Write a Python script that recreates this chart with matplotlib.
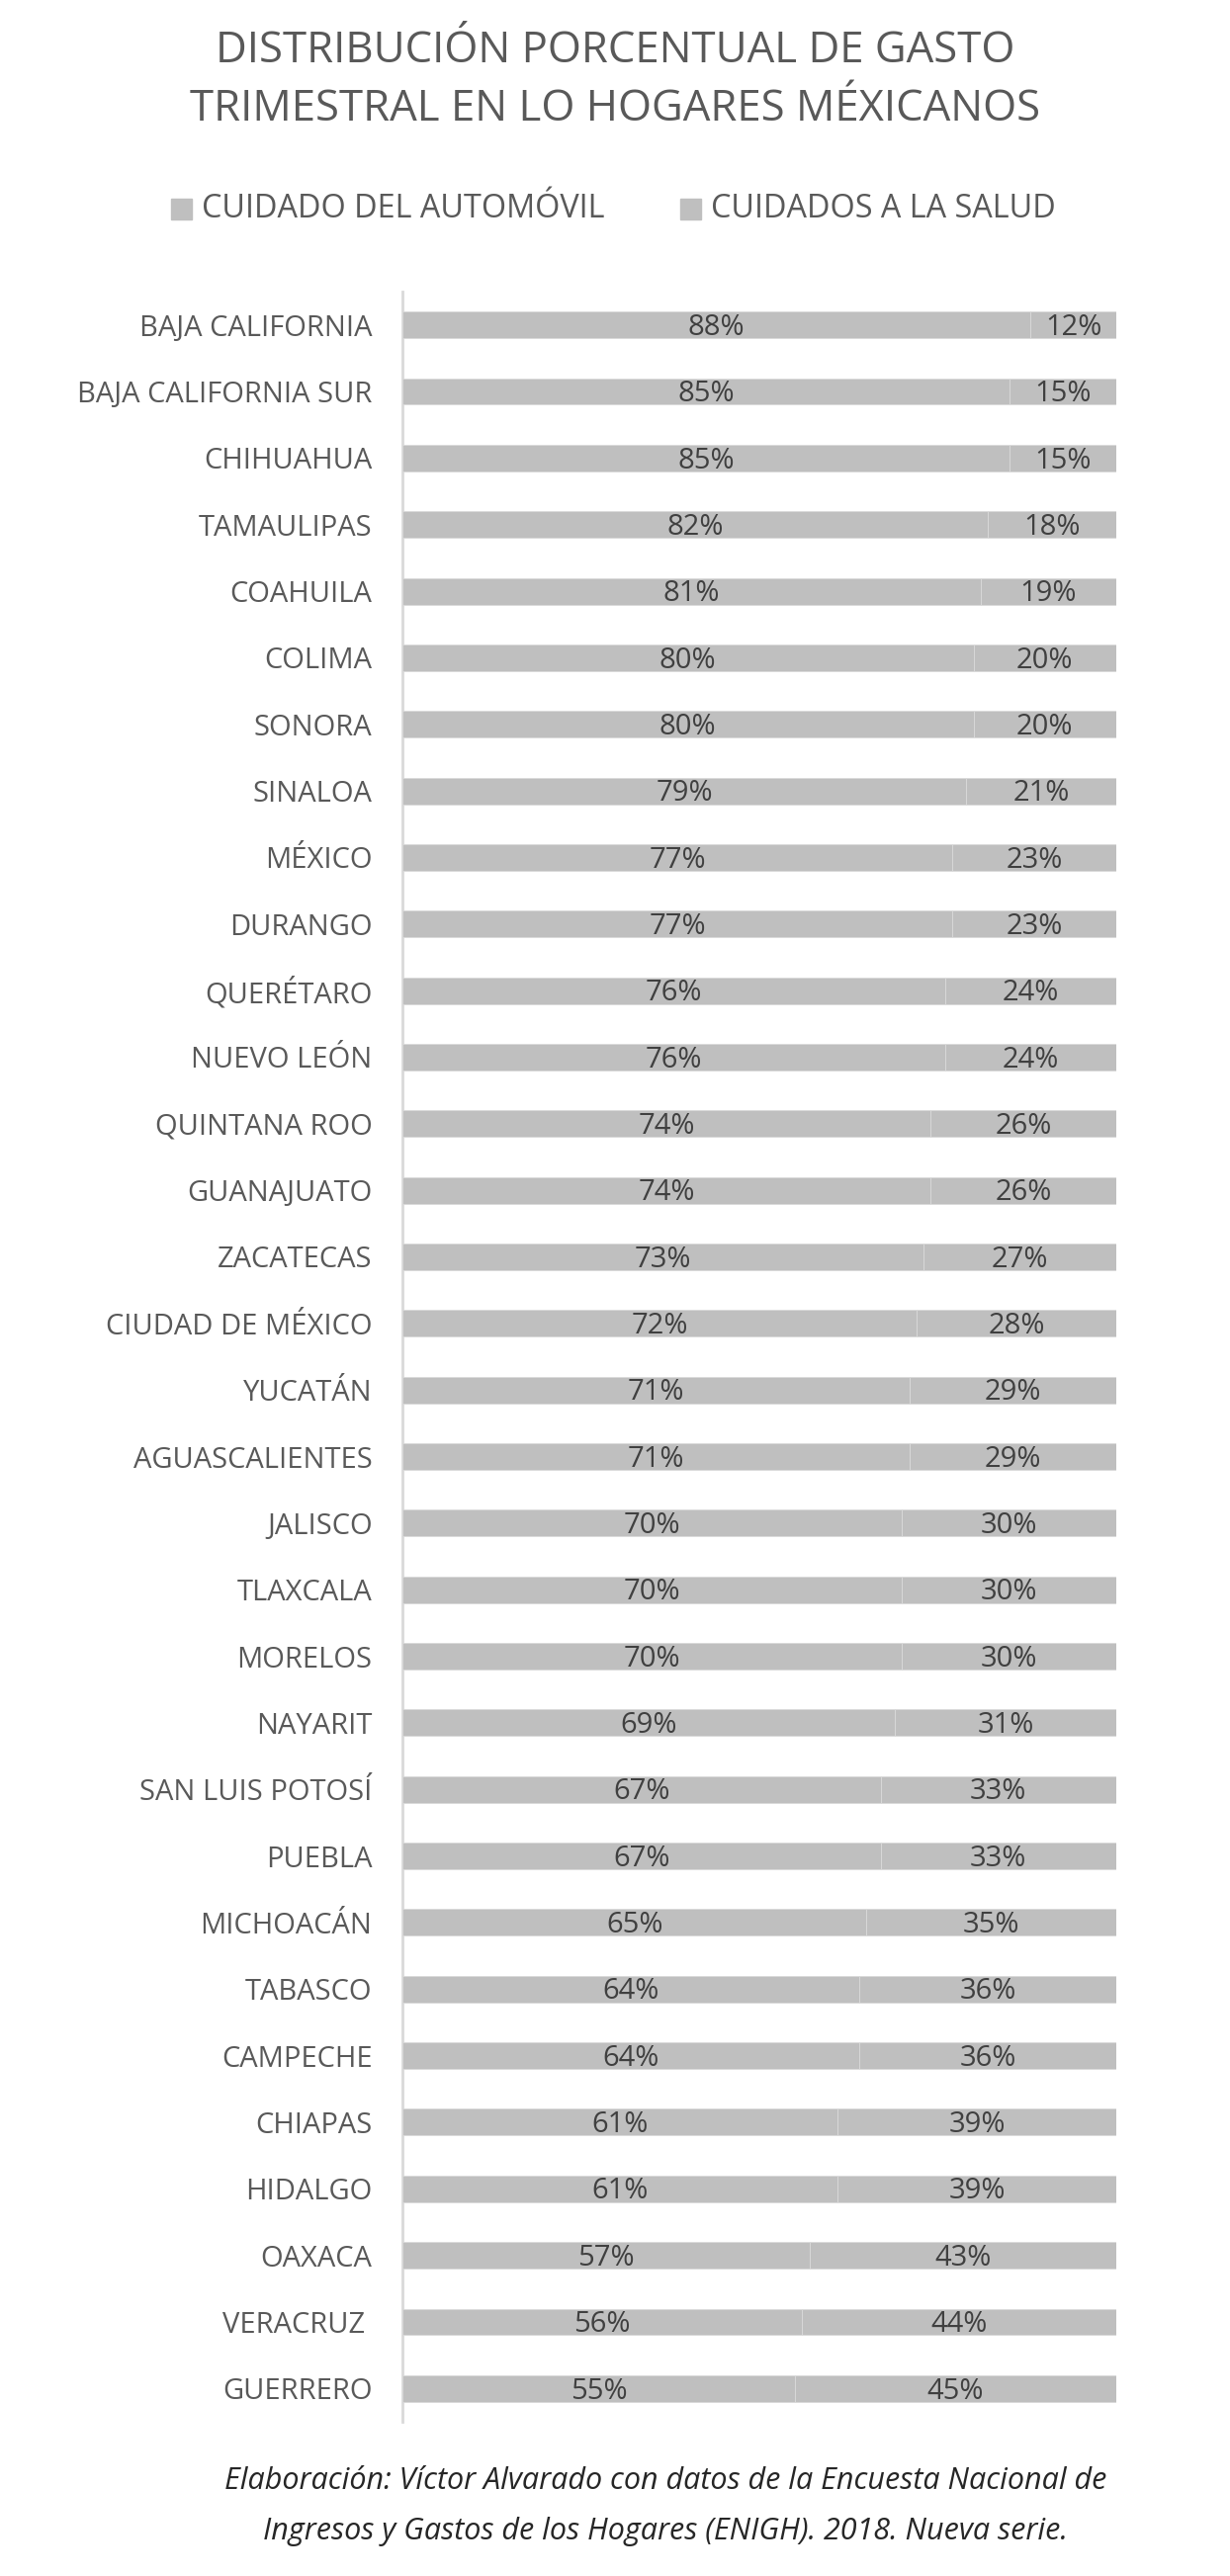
import numpy as np
import matplotlib
matplotlib.use("Agg")
import matplotlib.pyplot as plt
from matplotlib.patches import Rectangle

plt.rcParams['font.family'] = ['Open Sans', 'DejaVu Sans']

# data
estados = ['BAJA CALIFORNIA', 'BAJA CALIFORNIA SUR', 'CHIHUAHUA', 'TAMAULIPAS', 'COAHUILA',
           'COLIMA', 'SONORA', 'SINALOA', 'MÉXICO', 'DURANGO', 'QUERÉTARO', 'NUEVO LEÓN',
           'QUINTANA ROO', 'GUANAJUATO', 'ZACATECAS', 'CIUDAD DE MÉXICO', 'YUCATÁN',
           'AGUASCALIENTES', 'JALISCO', 'TLAXCALA', 'MORELOS', 'NAYARIT', 'SAN LUIS POTOSÍ',
           'PUEBLA', 'MICHOACÁN', 'TABASCO', 'CAMPECHE', 'CHIAPAS', 'HIDALGO', 'OAXACA',
           'VERACRUZ ', 'GUERRERO']
automovil = [88, 85, 85, 82, 81, 80, 80, 79, 77, 77, 76, 76, 74, 74, 73, 72,
             71, 71, 70, 70, 70, 69, 67, 67, 65, 64, 64, 61, 61, 57, 56, 55]
salud = [12, 15, 15, 18, 19, 20, 20, 21, 23, 23, 24, 24, 26, 26, 27, 28,
         29, 29, 30, 30, 30, 31, 33, 33, 35, 36, 36, 39, 39, 43, 44, 45]
series = ['CUIDADO DEL AUTOMÓVIL', 'CUIDADOS A LA SALUD']

W, H = 1244, 2606
BAR = '#BFBFBF'
TXT = '#595959'
LBL = '#404040'

fig = plt.figure(figsize=(W / 100, H / 100), dpi=100)

# axes placed in pixel coords
left, right, top, bottom = 407, 1129, 295, 2450
ax = fig.add_axes([left / W, 1 - bottom / H, (right - left) / W, (bottom - top) / H])

y = np.arange(len(estados))
a = np.array(automovil) / 100
s = np.array(salud) / 100
ax.barh(y, a, height=0.40, color=BAR, edgecolor='#DADADA', linewidth=0.6, zorder=2)
ax.barh(y, s, left=a, height=0.40, color=BAR, edgecolor='#DADADA', linewidth=0.6, zorder=2)

for i in range(len(estados)):
    ax.text(a[i] / 2, i + 0.04, f'{automovil[i]}%', ha='center', va='center',
            fontsize=21, color=LBL, zorder=3)
    ax.text(a[i] + s[i] / 2, i + 0.04, f'{salud[i]}%', ha='center', va='center',
            fontsize=21, color=LBL, zorder=3)

ax.set_xlim(0, 1)
ax.set_ylim(len(estados) - 0.5, -0.5)
ax.set_yticks(y)
ax.set_yticklabels(estados, fontsize=21, color=TXT)
ax.tick_params(axis='y', length=0, pad=22)
ax.set_xticks([])
for sp in ['top', 'right', 'bottom']:
    ax.spines[sp].set_visible(False)
ax.spines['left'].set_color('#D9D9D9')
ax.spines['left'].set_linewidth(2)
ax.spines['left'].set_zorder(1)

# title
fig.text(0.5, 1 - 52 / H, 'DISTRIBUCIÓN PORCENTUAL DE GASTO', ha='center', va='center',
         fontsize=31.5, color=TXT)
fig.text(0.5, 1 - 111 / H, 'TRIMESTRAL EN LO HOGARES MÉXICANOS', ha='center', va='center',
         fontsize=31.5, color=TXT)

# legend
legend_x = [173, 688]
for lx, name in zip(legend_x, series):
    fig.patches.append(Rectangle((lx / W, 1 - 222 / H), 21 / W, 21 / H, transform=fig.transFigure,
                                 color=BAR))
    fig.text((lx + 31) / W, 1 - 211 / H, name, ha='left', va='center', fontsize=23.3, color=TXT)

# footnote
fig.text(673 / W, 1 - 2510 / H, 'Elaboración: Víctor Alvarado con datos de la Encuesta Nacional de',
         ha='center', va='center', fontsize=22, style='italic', color='#262626')
fig.text(673 / W, 1 - 2561 / H, 'Ingresos y Gastos de los Hogares (ENIGH). 2018. Nueva serie.',
         ha='center', va='center', fontsize=22, style='italic', color='#262626')

fig.savefig('out.png', dpi=100, facecolor='white')
